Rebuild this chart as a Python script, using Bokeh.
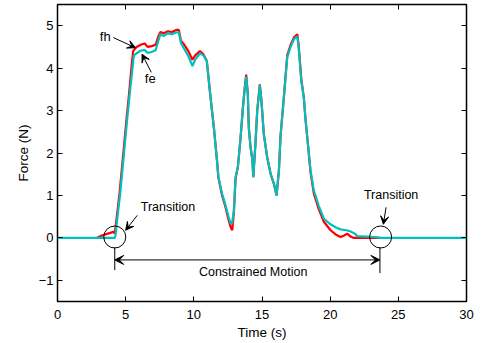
from bokeh.plotting import figure
from bokeh.models import Range1d, FixedTicker, LinearAxis, Arrow, VeeHead, Label
from bokeh.embed import file_html
from bokeh.resources import INLINE

# ---- data ----
t_fe = [0, 4.2, 4.25, 4.4, 4.6, 4.85, 5.1, 5.3, 5.5, 5.6, 5.8, 6.1, 6.4, 6.6, 6.9, 7.2, 7.4, 7.55,
        7.8, 8.1, 8.4, 8.7, 8.9, 9.05, 9.3, 9.6, 9.9, 10.1, 10.45, 10.7, 10.95, 11.2, 11.47, 11.7,
        11.8, 12.07, 12.3, 12.55, 12.7, 12.8, 12.94, 13.06, 13.23, 13.43, 13.6, 13.72, 13.84, 13.96,
        14.03, 14.16, 14.3, 14.36, 14.52, 14.65, 14.84, 14.96, 15.13, 15.38, 15.63, 15.87, 16.07,
        16.24, 16.36, 16.6, 16.85, 17.1, 17.34, 17.59, 17.7, 17.88, 18.07, 18.2, 18.32, 18.56, 18.8,
        19.17, 19.54, 20.03, 20.4, 20.76, 21.2, 21.5, 21.8, 22.0, 22.7, 23.2, 23.7, 30]
fe = [0, 0, 0.05, 0.5, 1.05, 1.9, 2.76, 3.4, 4.0, 4.3, 4.35, 4.41, 4.43, 4.36, 4.38, 4.42, 4.65, 4.8,
      4.76, 4.82, 4.8, 4.84, 4.85, 4.6, 4.45, 4.28, 4.05, 4.2, 4.35, 4.3, 4.17, 3.39, 2.6, 1.82,
      1.43, 1.04, 0.8, 0.49, 0.34, 0.33, 0.65, 1.43, 1.67, 2.37, 3.07, 3.47, 3.8, 3.39,
      2.6, 2.14, 1.82, 1.43, 2.22, 3.0, 3.6, 3.23, 2.45, 1.9, 1.51, 1.28, 1.0,
      1.59, 2.4, 3.3, 4.25, 4.5, 4.68, 4.75, 4.45, 3.7, 3.3, 2.76, 2.37, 1.59, 1.12,
      0.75, 0.45, 0.32, 0.25, 0.2, 0.18, 0.15, 0.1, 0.04, 0.03, 0.02, 0, 0]

t_fh = [2.9, 3.3, 3.7, 4.1, 4.2, 4.35, 4.55, 4.8, 5.05, 5.25, 5.45, 5.55, 5.8, 6.1, 6.4, 6.6, 6.9,
        7.2, 7.4, 7.55, 7.8, 8.1, 8.4, 8.7, 8.9, 9.05, 9.3, 9.6, 9.9, 10.1, 10.45, 10.7, 10.95, 11.2,
        11.47, 11.7, 11.8, 12.07, 12.3, 12.55, 12.7, 12.82, 12.94, 13.06, 13.23, 13.43, 13.6, 13.72,
        13.84, 13.96, 14.03, 14.16, 14.3, 14.36, 14.52, 14.65, 14.84, 14.96, 15.13, 15.38, 15.63,
        15.87, 16.07, 16.24, 16.36, 16.6, 16.85, 17.1, 17.34, 17.59, 17.7, 17.88, 18.07, 18.2, 18.32,
        18.56, 18.8, 19.17, 19.54, 20.03, 20.4, 20.76, 21.0, 21.25, 21.5, 21.7, 23.6]
fh = [0, 0.06, 0.1, 0.14, 0.1, 0.5, 1.05, 1.9, 2.76, 3.4, 4.1, 4.4, 4.5, 4.55, 4.58, 4.5, 4.52,
      4.55, 4.75, 4.85, 4.82, 4.87, 4.85, 4.9, 4.9, 4.65, 4.55, 4.4, 4.2, 4.3, 4.4, 4.33, 4.17, 3.39,
      2.6, 1.82, 1.43, 1.0, 0.75, 0.42, 0.25, 0.18, 0.62, 1.4, 1.67, 2.37, 3.07, 3.5,
      3.85, 3.39, 2.6, 2.14, 1.82, 1.43, 2.22, 3.0, 3.62, 3.23, 2.45, 1.9, 1.51,
      1.28, 1.0, 1.59, 2.4, 3.3, 4.3, 4.55, 4.72, 4.8, 4.5, 3.75, 3.3, 2.76, 2.37,
      1.55, 1.05, 0.67, 0.38, 0.18, 0.08, 0.02, 0.05, 0.1, 0.03, 0.0, 0.0]

x_ticks = [0, 5, 10, 15, 20, 25, 30]
y_ticks = [-1, 0, 1, 2, 3, 4, 5]
y_tick_labels = {-1: "\u22121", 0: "0", 1: "1", 2: "2", 3: "3", 4: "4", 5: "5"}

# annotation anchors
trans_start, trans_end = 4.2, 23.65
FONT = "Liberation Sans"

p = figure(width=481, height=343, output_backend="svg", toolbar_location=None,
           x_range=Range1d(0, 30), y_range=Range1d(-1.5, 5.5),
           min_border_left=57, min_border_right=15, min_border_top=4, min_border_bottom=42)
p.xgrid.visible = False
p.ygrid.visible = False
p.outline_line_color = "black"
p.outline_line_width = 1.5
p.background_fill_color = "white"
p.border_fill_color = "white"

p.line(t_fh, fh, line_color="#ff0000", line_width=2.2)
p.line(t_fe, fe, line_color="#00bfbf", line_width=2.2)

def style_axis(ax):
    ax.axis_line_color = None
    ax.major_tick_in = 5
    ax.major_tick_out = 0
    ax.minor_tick_line_color = None
    ax.major_tick_line_color = "black"
    ax.major_tick_line_width = 1
    ax.major_label_text_font = FONT
    ax.major_label_text_font_size = "13px"
    ax.major_label_text_color = "black"
    ax.axis_label_text_font = FONT
    ax.axis_label_text_font_size = "13.5px"
    ax.axis_label_text_font_style = "normal"
    ax.axis_label_text_color = "black"

for ax in p.xaxis:
    ax.ticker = FixedTicker(ticks=x_ticks)
    style_axis(ax)
    ax.major_label_standoff = 8
    ax.axis_label = "Time (s)"
    ax.axis_label_standoff = 3
for ax in p.yaxis:
    ax.ticker = FixedTicker(ticks=y_ticks)
    style_axis(ax)
    ax.major_label_overrides = y_tick_labels
    ax.major_label_standoff = 4
    ax.axis_label = "Force (N)"
    ax.axis_label_standoff = 5

top = LinearAxis(ticker=FixedTicker(ticks=x_ticks))
style_axis(top)
top.major_label_overrides = {t: "" for t in x_ticks}
top.major_label_standoff = 0
p.add_layout(top, "above")
right = LinearAxis(ticker=FixedTicker(ticks=y_ticks))
style_axis(right)
right.major_label_overrides = {t: "" for t in y_ticks}
right.major_label_standoff = 0
p.add_layout(right, "right")

# transition circles and markers
p.scatter([4.2, 23.7], [0.02, 0.02], marker="circle", size=22, fill_color=None,
          line_color="black", line_width=1)
p.segment(x0=[trans_start, trans_end], y0=[-0.22, -0.22], x1=[trans_start, trans_end],
          y1=[-0.76, -0.83], line_color="black", line_width=1)

p.add_layout(Arrow(start=VeeHead(size=9, fill_color="black", line_color="black", line_width=1),
                   end=VeeHead(size=9, fill_color="black", line_color="black", line_width=1),
                   x_start=trans_start, y_start=-0.52, x_end=trans_end, y_end=-0.52,
                   line_color="black", line_width=1))

def arrow(xs, ys, xe, ye):
    p.add_layout(Arrow(end=VeeHead(size=8, fill_color="black", line_color="black", line_width=1),
                       x_start=xs, y_start=ys, x_end=xe, y_end=ye,
                       line_color="black", line_width=1))

arrow(5.85, 0.53, 5.0, 0.18)
arrow(24.1, 0.72, 23.9, 0.32)
arrow(4.1, 4.72, 5.72, 4.48)
arrow(6.88, 3.9, 6.2, 4.33)

def label(x, y, text, size="12.5px"):
    p.add_layout(Label(x=x, y=y, text=text, text_font=FONT, text_font_size=size,
                       text_align="center", text_baseline="middle", text_color="black"))

label(8.1, 0.72, "Transition")
label(24.47, 1.0, "Transition")
label(14.35, -0.8, "Constrained Motion")
label(3.5, 4.75, "fh", "13px")
label(6.8, 3.75, "fe", "13px")

open("out.html", "w").write(file_html(p, INLINE))
